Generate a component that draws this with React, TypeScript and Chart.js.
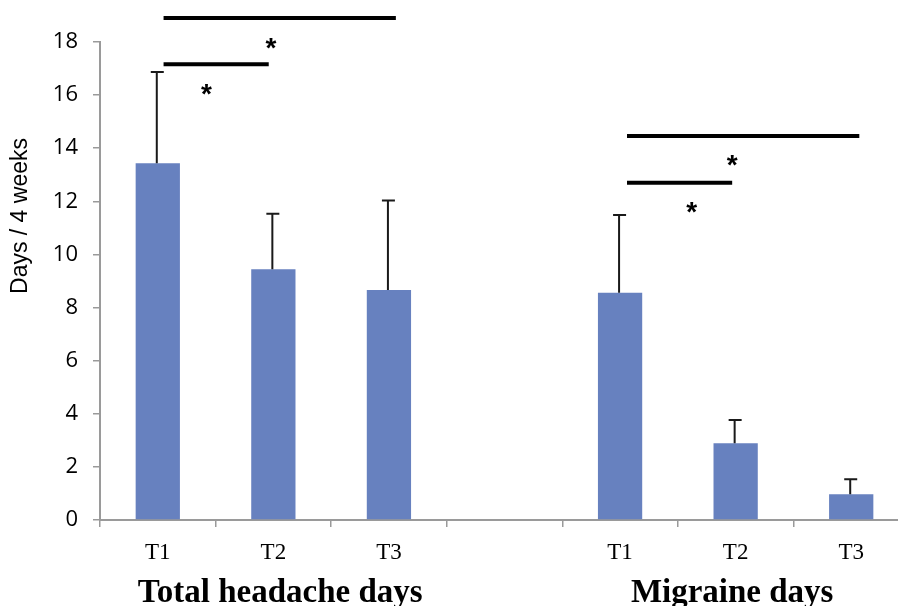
import React, { useEffect, useRef } from "react";
import { Chart, registerables } from "chart.js";

Chart.register(...registerables);

const categories = ["T1", "T2", "T3", "", "T1", "T2", "T3"];
const meanDays = [13.43, 9.44, 8.66, null, 8.56, 2.89, 0.97];
const errorUpper = [16.87, 11.53, 12.03, null, 11.49, 3.77, 1.53];

const groupLabels = ["Total headache days", "Migraine days"];
const groupLabelIndex = [1.06, 4.97];

const sigFrom = [0.05, 0.05, 4.06, 4.06];
const sigTo = [2.06, 0.96, 6.07, 4.97];
const sigY = [18.9, 17.16, 14.46, 12.7];

const starX = [0.98, 0.42, 4.97, 4.62];
const starY = [18.04, 16.3, 13.63, 11.86];

const yTitle = "Days / 4 weeks";
const yTicksMax = 18;
const yStep = 2;

const overlayPlugin = {
  id: "overlay",
  afterDatasetsDraw(chart: any) {
    const ctx = chart.ctx;
    const xs = chart.scales.x;
    const ys = chart.scales.y;
    const meta = chart.getDatasetMeta(0);
    ctx.save();
    // error bars
    ctx.strokeStyle = "#1a1a1a";
    ctx.lineWidth = 2;
    meta.data.forEach((bar: any, i: number) => {
      const up = errorUpper[i];
      const v = meanDays[i];
      if (up == null || v == null) return;
      const x = bar.x - 1;
      const y0 = ys.getPixelForValue(v);
      const y1 = ys.getPixelForValue(up);
      ctx.beginPath();
      ctx.moveTo(x, y0);
      ctx.lineTo(x, y1);
      ctx.moveTo(x - 6, y1);
      ctx.lineTo(x + 7, y1);
      ctx.stroke();
    });
    // significance lines
    ctx.strokeStyle = "#000";
    ctx.lineWidth = 4;
    for (let i = 0; i < sigY.length; i++) {
      const y = ys.getPixelForValue(sigY[i]);
      ctx.beginPath();
      ctx.moveTo(xs.getPixelForValue(sigFrom[i]), y);
      ctx.lineTo(xs.getPixelForValue(sigTo[i]), y);
      ctx.stroke();
    }
    // stars
    ctx.fillStyle = "#000";
    ctx.font = "bold 28px 'Liberation Sans'";
    ctx.textAlign = "center";
    ctx.textBaseline = "alphabetic";
    for (let i = 0; i < starX.length; i++) {
      const x = xs.getPixelForValue(starX[i]);
      const y = ys.getPixelForValue(starY[i]);
      ctx.fillText("*", x, y + 0.58 * 28);
    }
    // group labels
    ctx.font = "bold 33px 'Liberation Serif'";
    for (let i = 0; i < groupLabels.length; i++) {
      ctx.fillText(groupLabels[i], xs.getPixelForValue(groupLabelIndex[i]), chart.height - 4);
    }
    // y title
    ctx.font = "23px 'Liberation Sans'";
    ctx.textBaseline = "middle";
    ctx.translate(21, ys.getPixelForValue(9) - 65);
    ctx.rotate(-Math.PI / 2);
    ctx.fillText(yTitle, 0, 0);
    ctx.restore();
  },
};

export default function App() {
  const ref = useRef<HTMLCanvasElement | null>(null);
  useEffect(() => {
    if (!ref.current) return;
    const chart = new Chart(ref.current, {
      type: "bar",
      data: {
        labels: categories,
        datasets: [
          {
            data: meanDays as any,
            backgroundColor: "#6781bf",
            borderWidth: 0,
            categoryPercentage: 1,
            barPercentage: 0.383,
          },
        ],
      },
      options: {
        animation: false,
        responsive: false,
        devicePixelRatio: 1,
        layout: { padding: { top: 42, left: 0, right: 0, bottom: 0 } },
        plugins: {
          legend: { display: false },
          tooltip: { enabled: false },
        },
        scales: {
          x: {
            grid: {
              offset: true,
              drawOnChartArea: false,
              tickLength: 7,
              color: "#9a9a9a",
              lineWidth: 1.5,
            },
            border: { color: "#9a9a9a", width: 2 },
            ticks: {
              color: "#000",
              font: { family: "'Liberation Serif'", size: 23 },
              padding: 12,
              maxRotation: 0,
              autoSkip: false,
            },
            afterFit(scale: any) {
              scale.height = 86;
            },
          },
          y: {
            min: 0,
            max: yTicksMax,
            grid: {
              drawOnChartArea: false,
              tickLength: 7,
              color: "#9a9a9a",
              lineWidth: 1.5,
            },
            border: { color: "#9a9a9a", width: 2 },
            ticks: {
              stepSize: yStep,
              color: "#000",
              font: { family: "'Open Sans'", size: 22 },
              padding: 15,
            },
            afterFit(scale: any) {
              scale.width = 100;
            },
          },
        },
      },
      plugins: [overlayPlugin],
    });
    return () => chart.destroy();
  }, []);
  return (
    <div
      style={{
        position: "fixed",
        left: 0,
        top: 0,
        width: 898,
        height: 606,
        overflow: "hidden",
        background: "#fff",
      }}
    >
      <canvas ref={ref} width={909} height={606} style={{ display: "block", width: 909, height: 606 }} />
    </div>
  );
}
